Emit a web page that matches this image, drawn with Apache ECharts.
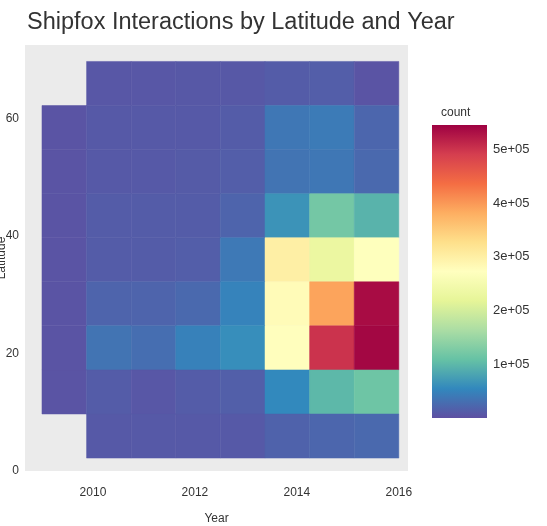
<!DOCTYPE html>
<html>
<head>
<meta charset="utf-8">
<script src="https://cdn.jsdelivr.net/npm/echarts@6/dist/echarts.min.js"></script>
<style>html,body{margin:0;padding:0;background:#fff;}#c{width:547px;height:526px;}</style>
</head>
<body>
<div id="c"></div>
<script>
// ---- data ----
const titleText = 'Shipfox Interactions by Latitude and Year';
const xName = 'Year';
const yName = 'Latitude';
const legendName = 'count';
// histogram bin edges (years, latitude)
const yearEdges = [2009, 2009.875, 2010.75, 2011.625, 2012.5, 2013.375, 2014.25, 2015.125, 2016];
const latEdges = [69.7, 62.2, 54.7, 47.2, 39.7, 32.2, 24.7, 17.2, 9.7, 2.2];
const xTicks = [2010, 2012, 2014, 2016];
const yTicks = [0, 20, 40, 60];
const countTicks = [100000, 200000, 300000, 400000, 500000];
const countMax = 545000;
// counts per latitude row (top row first), one value per year bin
const counts = [
  [null,  8000,  8000,  9000,  9000,  12000,  14000,   5000],
  [5000, 10000, 10000, 10000, 12000,  38000,  42000,  22000],
  [5000, 10000, 10000, 11000, 14000,  35000,  38000,  25000],
  [5000, 12000, 12000, 12000, 20000,  65000, 120000,  95000],
  [5000, 12000, 12000, 14000, 40000, 300000, 230000, 270000],
  [5000, 20000, 20000, 25000, 50000, 280000, 390000, 535000],
  [5000, 35000, 30000, 48000, 60000, 275000, 500000, 540000],
  [5000, 12000,  8000, 12000, 15000,  55000, 100000, 115000],
  [null, 10000, 10000, 10000, 10000,  18000,  22000,  25000]
];
const spectral = ['#5e4fa2','#3288bd','#66c2a5','#abdda4','#e6f598','#ffffbf','#fee08b','#fdae61','#f46d43','#d53e4f','#9e0142'];

// ---- build ----
const cells = [];
counts.forEach((row, r) => {
  row.forEach((v, c) => {
    if (v == null) return;
    cells.push([yearEdges[c], yearEdges[c + 1], latEdges[r + 1], latEdges[r], v]);
  });
});

const chart = echarts.init(document.getElementById('c'), null, {renderer: 'canvas'});
const labelColor = '#333';
const font = 'Liberation Sans, Arial, sans-serif';

chart.setOption({
  backgroundColor: '#ffffff',
  animation: false,
  title: [
    {text: titleText, left: 22, top: 6, textStyle: {fontFamily: font, fontSize: 23.5, fontWeight: 'normal', color: '#333'}},
    {text: legendName, left: 436, top: 102, textStyle: {fontFamily: font, fontSize: 12, fontWeight: 'normal', color: '#333'}}
  ],
  grid: [
    {left: 25, right: 139, top: 45, bottom: 55, show: true, backgroundColor: '#ebebeb', borderWidth: 0, outerBoundsMode: 'none', containLabel: false},
    {left: 432, width: 55, top: 125, height: 293, show: false, outerBoundsMode: 'none', containLabel: false}
  ],
  xAxis: [
    {type: 'value', gridIndex: 0, min: 2008.667, max: 2016.18,
     name: xName, nameLocation: 'middle', nameGap: 42, nameMoveOverlap: false,
     nameTextStyle: {fontFamily: font, fontSize: 12, color: labelColor},
     axisLine: {show: false}, axisTick: {show: false}, splitLine: {show: false},
     axisLabel: {customValues: xTicks, fontFamily: font, fontSize: 12, color: labelColor, margin: 16,
       formatter: v => String(v)}},
    {type: 'value', gridIndex: 1, min: 0, max: 1, show: false}
  ],
  yAxis: [
    {type: 'value', gridIndex: 0, min: 0, max: 72.5,
     name: yName, nameLocation: 'middle', nameGap: 17, nameRotate: 90, nameMoveOverlap: false,
     nameTextStyle: {fontFamily: font, fontSize: 12, color: labelColor},
     axisLine: {show: false}, axisTick: {show: false}, splitLine: {show: false},
     axisLabel: {customValues: yTicks, fontFamily: font, fontSize: 12, color: labelColor, margin: 6,
       formatter: v => String(v)}},
    {type: 'value', gridIndex: 1, min: 0, max: countMax, position: 'right',
     axisLine: {show: false}, axisTick: {show: false}, splitLine: {show: false},
     axisLabel: {customValues: countTicks, fontFamily: font, fontSize: 13, color: labelColor, margin: 6,
       formatter: v => (v / 100000) + 'e+05'}}
  ],
  visualMap: {
    type: 'continuous', show: false, min: 0, max: countMax, dimension: 4, seriesIndex: 0,
    inRange: {color: spectral}
  },
  series: [
    {
      type: 'custom', xAxisIndex: 0, yAxisIndex: 0,
      encode: {x: [0, 1], y: [2, 3]},
      data: cells,
      renderItem: function (params, api) {
        const p0 = api.coord([api.value(0), api.value(3)]);
        const p1 = api.coord([api.value(1), api.value(2)]);
        const col = api.visual('color');
        return {type: 'rect', shape: {x: p0[0], y: p0[1], width: p1[0] - p0[0], height: p1[1] - p0[1]},
                style: {fill: col, stroke: col, lineWidth: 0.5}};
      }
    },
    {
      type: 'custom', xAxisIndex: 1, yAxisIndex: 1,
      data: [[0, 1, 0, countMax]],
      encode: {x: [0, 1], y: [2, 3]},
      renderItem: function (params, api) {
        const p0 = api.coord([api.value(0), api.value(3)]);
        const p1 = api.coord([api.value(1), api.value(2)]);
        const stops = spectral.map((c, i) => ({offset: i / (spectral.length - 1), color: c}));
        return {type: 'rect', shape: {x: p0[0], y: p0[1], width: p1[0] - p0[0], height: p1[1] - p0[1]},
                style: {fill: new echarts.graphic.LinearGradient(0, 1, 0, 0, stops)}};
      }
    }
  ]
});
</script>
</body>
</html>
